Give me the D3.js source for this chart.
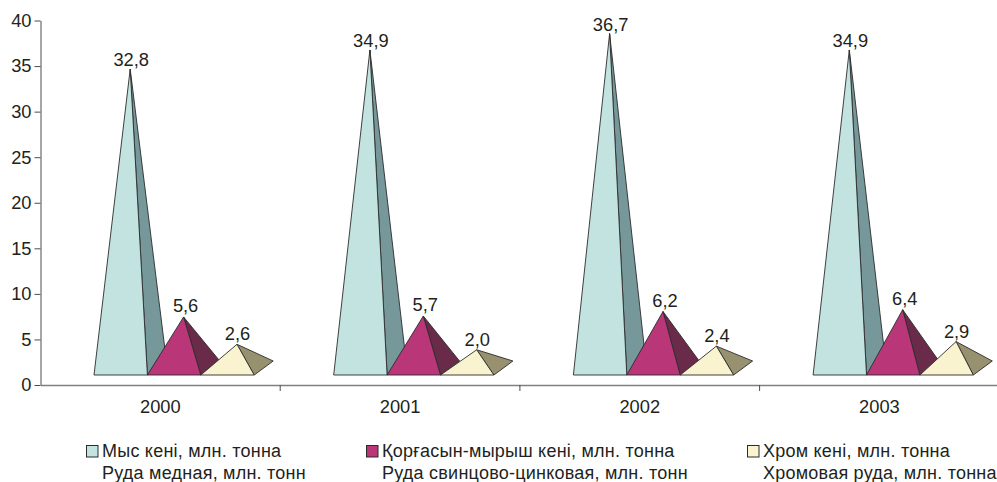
<!DOCTYPE html>
<html>
<head>
<meta charset="utf-8">
<script src="https://cdn.jsdelivr.net/npm/d3@7"></script>
<style>
html, body { margin: 0; padding: 0; background: #fff; overflow: hidden; }
text { font-family: "Liberation Sans", Arial, sans-serif; fill: #231f20; }
</style>
</head>
<body>
<div id="chart"></div>
<script>
var years = ["2000", "2001", "2002", "2003"];
var seriesKeys = ["copper", "lead", "chrome"];
var copper = [32.8, 34.9, 36.7, 34.9];
var lead = [5.6, 5.7, 6.2, 6.4];
var chrome = [2.6, 2.0, 2.4, 2.9];
var yTicks = [0, 5, 10, 15, 20, 25, 30, 35, 40];
var legendKk = ["Мыс кені, млн. тонна", "Қорғасын-мырыш кені, млн. тонна", "Хром кені, млн. тонна"];
var legendRu = ["Руда медная, млн. тонн", "Руда свинцово-цинковая, млн. тонн", "Хромовая руда, млн. тонна"];
var frontColors = ["#c2e3e0", "#b93678", "#f9f3d0"];
var sideColors = ["#76989a", "#6a2a4a", "#97916f"];

var values = [copper, lead, chrome];
var width = 997, height = 482;
var left = 40.5, top_ = 20.5, bottom = 385;

// 3D look: floor is lifted above the axis, side face goes back by depthX/depthY
var floorLift = 10, depthX = 19, depthY = 14;
// label gap over the apex differs per series
var labelGapY = [3, 5, 4];
var labelGapX = [1, 2, 0.5];

var svg = d3.select("#chart").append("svg")
    .attr("width", width)
    .attr("height", height);

var x = d3.scaleBand().domain(years).range([left, left + 4 * 239.7]);
var xInner = d3.scaleBand().domain(seriesKeys).range([53.5, 213.7]);
var y = d3.scaleLinear().domain([0, 40]).range([bottom, top_]);

// axes
var yAxis = svg.append("g")
    .attr("transform", "translate(" + left + ",0)")
    .call(d3.axisLeft(y).tickValues(yTicks).tickSize(6).tickSizeOuter(0).tickPadding(3));
yAxis.select(".domain").attr("stroke", "#4d4d4d").attr("stroke-width", 1);
yAxis.selectAll("line").attr("stroke", "#4d4d4d");
yAxis.selectAll("text").attr("font-size", 18.3).style("font-family", "Liberation Sans").style("fill", "#231f20");

var xAxis = svg.append("g")
    .attr("transform", "translate(0," + bottom + ")")
    .call(d3.axisBottom(x).tickSize(0).tickSizeOuter(0).tickPadding(15));
xAxis.select(".domain").attr("stroke", "#808080").attr("stroke-width", 1.5);
xAxis.selectAll("text").attr("font-size", 18.3).style("font-family", "Liberation Sans").style("fill", "#231f20");

svg.append("g").selectAll("line")
    .data(years.slice(0, 3))
    .enter().append("line")
    .attr("x1", function(d) { return x(d) + x.bandwidth(); })
    .attr("x2", function(d) { return x(d) + x.bandwidth(); })
    .attr("y1", bottom)
    .attr("y2", bottom + 6)
    .attr("stroke", "#4d4d4d");

// pyramids, one group per year, later series over earlier ones
var w = xInner.bandwidth();
var floorY = bottom - floorLift;

years.forEach(function(year, i) {
    seriesKeys.forEach(function(key, s) {
        var v = values[s][i];
        var x0 = x(year) + xInner(key);
        var x1 = x0 + w;
        var apexX = x0 + w / 2 + depthX / 2;
        var apexY = y(v) - floorLift - depthY / 2;
        var g = svg.append("g");

        g.append("path")
            .attr("d", d3.line()([[x1, floorY], [x1 + depthX, floorY - depthY], [apexX, apexY]]) + "Z")
            .attr("fill", sideColors[s])
            .attr("stroke", "#2b2b2b")
            .attr("stroke-width", 0.9)
            .attr("stroke-linejoin", "round");
        g.append("path")
            .attr("d", d3.line()([[x0, floorY], [x1, floorY], [apexX, apexY]]) + "Z")
            .attr("fill", frontColors[s])
            .attr("stroke", "#2b2b2b")
            .attr("stroke-width", 0.9)
            .attr("stroke-linejoin", "round");
        g.append("text")
            .attr("x", apexX + labelGapX[s])
            .attr("y", apexY - labelGapY[s])
            .attr("text-anchor", "middle")
            .attr("font-size", 18.3)
            .text(String(v.toFixed(1)).replace(".", ","));
    });
});

// legend
var legendX = [86, 366, 747];
var legend = svg.append("g").selectAll("g")
    .data(seriesKeys)
    .enter().append("g")
    .attr("transform", function(d, i) { return "translate(" + legendX[i] + ",445)"; });

legend.append("rect")
    .attr("x", 0.5)
    .attr("y", 0.5)
    .attr("width", 11.5)
    .attr("height", 11.5)
    .attr("fill", function(d, i) { return frontColors[i]; })
    .attr("stroke", "#2b2b2b");
legend.append("text")
    .attr("x", 16)
    .attr("y", 12)
    .attr("font-size", 18)
    .attr("letter-spacing", 0.23)
    .text(function(d, i) { return legendKk[i]; });
legend.append("text")
    .attr("x", 16)
    .attr("y", 34)
    .attr("font-size", 18)
    .attr("letter-spacing", 0.23)
    .text(function(d, i) { return legendRu[i]; });
</script>
</body>
</html>
